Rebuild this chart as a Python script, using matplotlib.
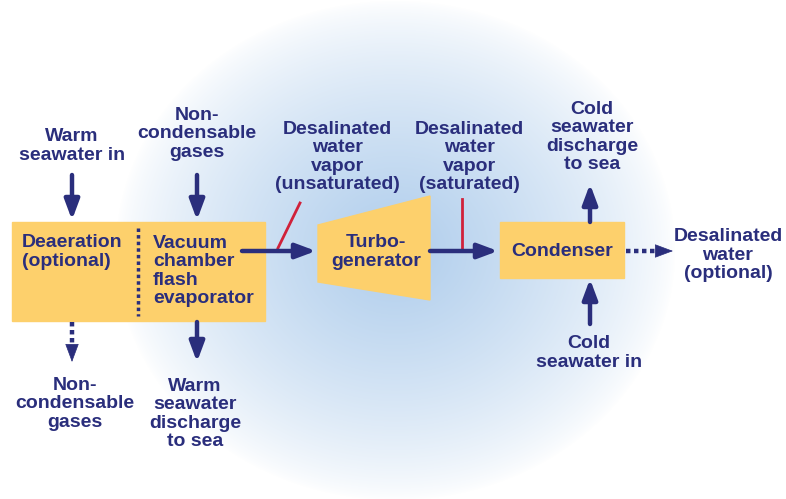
import matplotlib.pyplot as plt
import numpy as np
from matplotlib.patches import Rectangle, Polygon

# labels
top_in_labels = ["Warm\nseawater in", "Non-\ncondensable\ngases"]
bottom_out_labels = ["Non-\ncondensable\ngases", "Warm\nseawater\ndischarge\nto sea"]
box_labels = ["Deaeration\n(optional)", "Vacuum\nchamber\nflash\nevaporator",
              "Turbo-\ngenerator", "Condenser"]
vapor_labels = ["Desalinated\nwater\nvapor\n(unsaturated)", "Desalinated\nwater\nvapor\n(saturated)"]
condenser_labels = ["Cold\nseawater\ndischarge\nto sea", "Cold\nseawater in",
                    "Desalinated\nwater\n(optional)"]

NAVY = '#2a2e7c'
YELLOW = '#fdd06c'
RED = '#d0213a'
W, H = 786, 499

fig = plt.figure(figsize=(W / 100, H / 100), dpi=100)
ax = fig.add_axes([0, 0, 1, 1])
ax.set_xlim(0, W)
ax.set_ylim(H, 0)
ax.axis('off')

# radial blue glow in the background
yy, xx = np.mgrid[0:H, 0:W]
r = np.sqrt(((xx - 395) / 280.0) ** 2 + ((yy - 250) / 250.0) ** 2)
a = np.clip(1 - r, 0, 1) ** 0.75
deficit = np.array([80, 50, 19]) / 255.0
img = 1 - a[..., None] * deficit[None, None, :]
ax.imshow(img, extent=(0, W, H, 0), zorder=0, interpolation='bilinear')

txt = dict(color=NAVY, fontsize=14, fontweight='bold', family='Liberation Sans',
           linespacing=1.12, zorder=5)
head = '-|>,head_length=0.75,head_width=0.28'


def arrow(x0, y0, x1, y1, dotted=False):
    if dotted:
        # dotted shaft then a solid head
        dx, dy = x1 - x0, y1 - y0
        n = np.hypot(dx, dy)
        ex, ey = x1 - dx / n * 9, y1 - dy / n * 9
        ax.plot([x0, ex], [y0, ey], color=NAVY, lw=3.2, ls=(0, (1.0, 0.8)),
                solid_capstyle='butt', zorder=4)
        ax.annotate('', xy=(x1, y1), xytext=(ex - dx / n * 2, ey - dy / n * 2),
                    arrowprops=dict(arrowstyle=head, color=NAVY, lw=0.5,
                                    shrinkA=0, shrinkB=0, mutation_scale=16), zorder=4)
    else:
        ax.annotate('', xy=(x1, y1), xytext=(x0, y0),
                    arrowprops=dict(arrowstyle=head, color=NAVY, lw=3.2,
                                    shrinkA=0, shrinkB=0, mutation_scale=16), zorder=4)


# boxes
ax.add_patch(Rectangle((12, 222), 253, 99, color=YELLOW, zorder=2))
ax.plot([138, 138], [228, 316], color=NAVY, lw=2.5, ls=(0, (1, 0.9)), zorder=3)
ax.add_patch(Polygon([[318, 225], [430, 196], [430, 300], [318, 282]],
                     closed=True, color=YELLOW, zorder=2))
ax.add_patch(Rectangle((500, 222), 124, 56, color=YELLOW, zorder=2))

ax.text(22, 252, box_labels[0], ha='left', va='center', **txt)
ax.text(153, 271, box_labels[1], ha='left', va='center', **txt)
ax.text(376, 252, box_labels[2], ha='center', va='center', **txt)
ax.text(562, 251, box_labels[3], ha='center', va='center', **txt)

# inputs from the top
ax.text(72, 146, top_in_labels[0], ha='center', va='center', **txt)
ax.text(197, 134, top_in_labels[1], ha='center', va='center', **txt)
arrow(72, 175, 72, 220)
arrow(197, 175, 197, 220)

# outputs at the bottom
arrow(72, 322, 72, 362, dotted=True)
arrow(197, 322, 197, 362)
ax.text(75, 404, bottom_out_labels[0], ha='center', va='center', **txt)
ax.text(195, 414, bottom_out_labels[1], ha='center', va='center', **txt)

# vapor path
arrow(242, 251, 316, 251)
arrow(430, 251, 498, 251)
ax.plot([278, 300], [248, 203], color=RED, lw=2, zorder=3)
ax.plot([462, 462], [249, 199], color=RED, lw=2, zorder=3)
ax.text(337, 157, vapor_labels[0], ha='center', va='center', **txt)
ax.text(469, 157, vapor_labels[1], ha='center', va='center', **txt)

# condenser flows
arrow(590, 222, 590, 184)
arrow(590, 324, 590, 279)
arrow(626, 251, 673, 251, dotted=True)
ax.text(592, 137, condenser_labels[0], ha='center', va='center', **txt)
ax.text(589, 353, condenser_labels[1], ha='center', va='center', **txt)
ax.text(728, 255, condenser_labels[2], ha='center', va='center', **txt)

fig.savefig('out.png', dpi=100)
